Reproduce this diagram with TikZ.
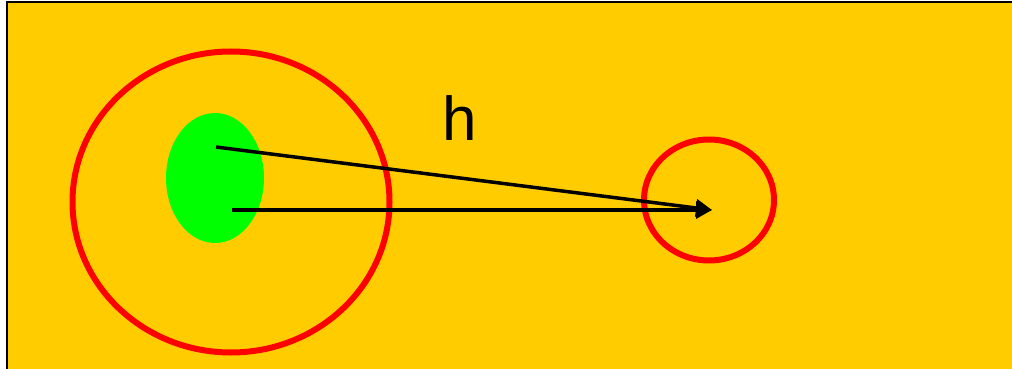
\documentclass[tikz,border=0pt]{standalone}
\usepackage{fontspec}
\setmainfont{Liberation Sans}
\usetikzlibrary{arrows.meta, positioning, shapes.geometric}
\definecolor{slideyellow}{HTML}{FFCC00}
\definecolor{spotgreen}{HTML}{00FF00}
\tikzset{
  ring/.style={draw=red, line width=6pt, ellipse, inner sep=0pt},
  ray/.style={-{Triangle[length=16pt, width=17pt]}, line width=3.5pt}
}
\begin{document}
\begin{tikzpicture}[x=1pt, y=-1pt, every node/.style={font=\fontsize{62}{62}\selectfont}]
  \useasboundingbox (0,0) rectangle (1012,369);
  % Background
  \fill[white] (0,0) rectangle (1012,369);
  \fill[slideyellow] (8,2) rectangle (1012,369);
  \draw[line width=2pt] (7,369) -- (7,2) -- (1012,2);

  % Source and target
  \node (outer) [ring, minimum width=317pt, minimum height=301pt] at (231,202) {};
  \node (spot) [ellipse, fill=spotgreen, minimum width=98pt, minimum height=130pt, inner sep=0pt] at (215,178) {};
  \node (target) [ring, minimum width=130pt, minimum height=121pt] at (709,200) {};

  % Rays
  \coordinate (tip) at (712,210);
  \coordinate (start1) at (216,147);
  \coordinate (start2) at (232,210);
  \draw[ray] (start1) -- (tip);
  \draw[ray] (start2) -- (tip);

  % Label
  \node (h) at (460,118) {h};
\end{tikzpicture}
\end{document}
